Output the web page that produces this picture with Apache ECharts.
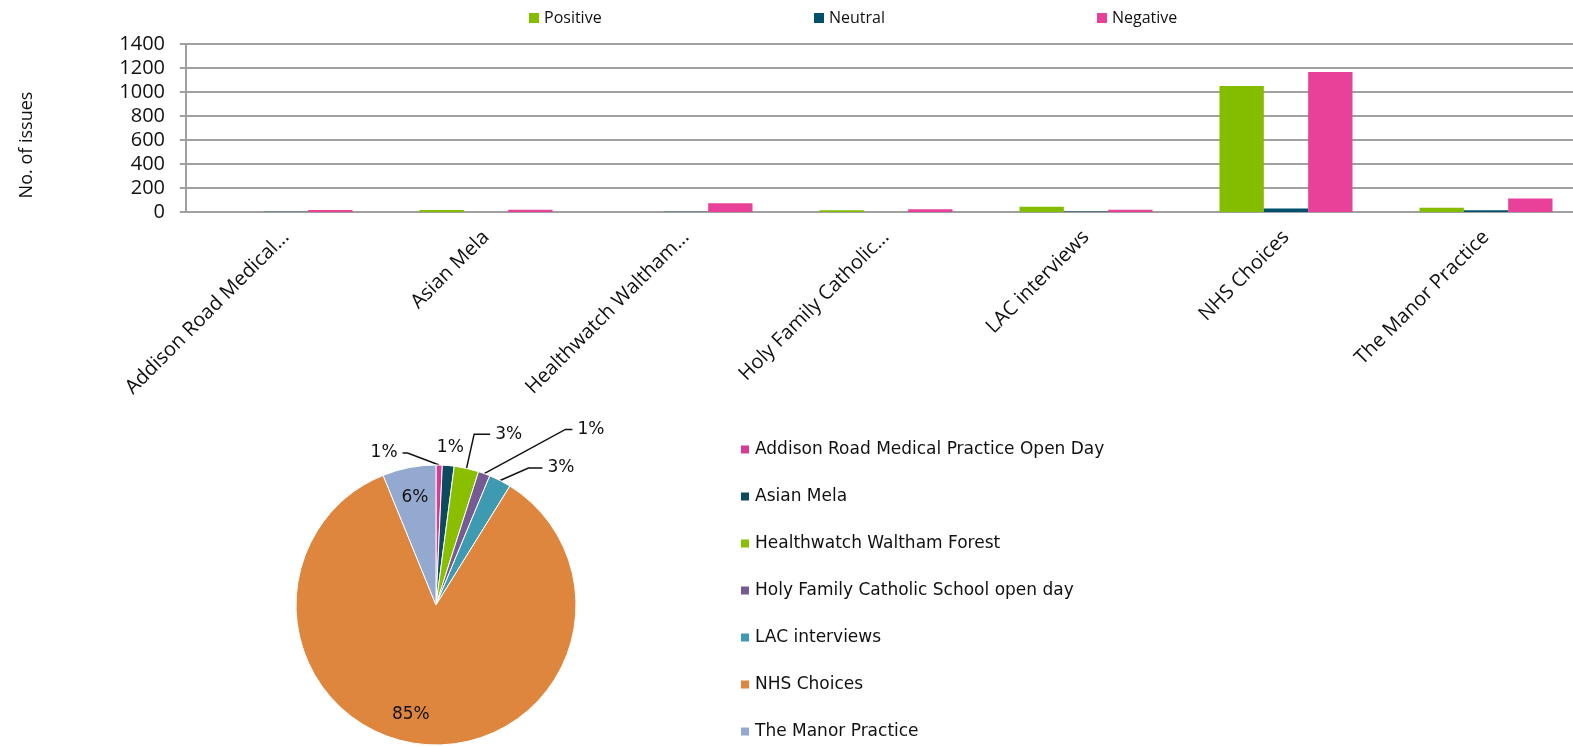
<!DOCTYPE html>
<html>
<head>
<meta charset="utf-8">
<script src="https://cdn.jsdelivr.net/npm/echarts@6/dist/echarts.min.js"></script>
<style>
  html, body { margin: 0; padding: 0; background: #fff; }
  #chart { width: 1573px; height: 747px; }
</style>
</head>
<body>
<div id="chart"></div>
<script>
// categories / sources
const categories = [
  'Addison Road Medical Practice Open Day',
  'Asian Mela',
  'Healthwatch Waltham Forest',
  'Holy Family Catholic School open day',
  'LAC interviews',
  'NHS Choices',
  'The Manor Practice'
]
// labels as shown under the bar chart
const tickLabels = [
  'Addison Road Medical...',
  'Asian Mela',
  'Healthwatch Waltham...',
  'Holy Family Catholic...',
  'LAC interviews',
  'NHS Choices',
  'The Manor Practice'
]
const positive = [0, 17, 0, 14, 44, 1051, 36]
const neutral = [2, 0, 3, 0, 5, 30, 14]
const negative = [17, 19, 72, 22, 19, 1167, 113]
const yMin = 0
const yMax = 1400
const yStep = 200

const sentimentColors = ['#84bc00', '#00506e', '#e8419a']
const sourceColors = ['#d63c96', '#0c4a60', '#8abf00', '#765a92', '#3d9ab0', '#de853e', '#93a9cf']

// pie = total issues per source
const totals = categories.map((c, i) => positive[i] + neutral[i] + negative[i])

const pieCenter = [436, 605]
const pieRadius = 140
// how each pie label is placed: inside, or outside with leader line [length, length2]
const pieLabelStyle = [
  { lens: [12, 30], line: true, flip: true },
  { lens: [18, 0], line: false, shift: -18 },
  { lens: [35, 16], line: true },
  { lens: [47, 72], line: true, tail: 7 },
  { lens: [14, 36], line: true, tail: 14 },
  { inside: true, shift: -16 },
  { inside: true }
]

const chart = echarts.init(document.getElementById('chart'))

const barFont = 'Open Sans'
const pieFont = 'DejaVu Sans'

const legendBase = {
  top: 5,
  itemWidth: 10,
  itemHeight: 10,
  icon: 'rect',
  selectedMode: false,
  textStyle: { fontFamily: barFont, fontSize: 16, color: '#111' }
}

const option = {
  animation: false,
  legend: [
    { ...legendBase, left: 524, data: ['Positive'] },
    { ...legendBase, left: 809, data: ['Neutral'] },
    { ...legendBase, left: 1092, data: ['Negative'] },
    {
      orient: 'vertical',
      left: 734,
      top: 436,
      itemWidth: 10,
      itemHeight: 10,
      itemGap: 30,
      icon: 'rect',
      selectedMode: false,
      data: categories,
      textStyle: { fontFamily: pieFont, fontSize: 17, color: '#111' }
    }
  ],
  // the plot runs a little past the right edge of the page
  grid: { left: 186, top: 44, width: 1400, height: 168, outerBoundsMode: 'none' },
  xAxis: {
    type: 'category',
    data: categories,
    axisLine: { lineStyle: { color: '#a0a0a0', width: 2 } },
    axisTick: { length: 6, lineStyle: { color: '#a0a0a0', width: 2 } },
    axisLabel: {
      rotate: 45,
      margin: 22,
      interval: 0,
      fontFamily: barFont,
      fontSize: 20,
      color: '#111',
      formatter: (v, i) => tickLabels[i]
    }
  },
  yAxis: {
    type: 'value',
    min: yMin,
    max: yMax,
    interval: yStep,
    name: 'No. of issues',
    nameLocation: 'middle',
    nameRotate: 90,
    nameGap: 150,
    nameTextStyle: { fontFamily: barFont, fontSize: 18, color: '#111', padding: [0, 34, 0, 0] },
    axisLine: { show: true, lineStyle: { color: '#a0a0a0', width: 2 } },
    axisTick: { show: true, length: 6, lineStyle: { color: '#a0a0a0', width: 2 } },
    splitLine: { lineStyle: { color: '#a0a0a0', width: 2 } },
    axisLabel: { margin: 21, fontFamily: barFont, fontSize: 20, color: '#111', formatter: v => String(v) }
  },
  series: [
    { name: 'Positive', type: 'bar', data: positive, itemStyle: { color: sentimentColors[0] }, barGap: '0%', barCategoryGap: '33.5%' },
    { name: 'Neutral', type: 'bar', data: neutral, itemStyle: { color: sentimentColors[1] }, barGap: '0%', barCategoryGap: '33.5%' },
    { name: 'Negative', type: 'bar', data: negative, itemStyle: { color: sentimentColors[2] }, barGap: '0%', barCategoryGap: '33.5%' },
    {
      name: 'Sources',
      type: 'pie',
      center: pieCenter,
      radius: pieRadius,
      startAngle: 90,
      percentPrecision: 0,
      avoidLabelOverlap: false,
      itemStyle: { borderColor: '#fff', borderWidth: 1 },
      label: {
        formatter: '{d}%',
        fontFamily: pieFont,
        fontSize: 17,
        color: '#111'
      },
      labelLine: { lineStyle: { color: '#111', width: 1.5 } },
      labelLayout: params => {
        const s = pieLabelStyle[params.dataIndex]
        const r = params.labelRect
        const p = params.labelLinePoints
        if (s.inside) {
          // push inside labels further toward the rim
          const lx = r.x + r.width / 2
          const ly = r.y + r.height / 2
          return {
            x: pieCenter[0] + (lx - pieCenter[0]) * 1.5 + (s.shift || 0),
            y: pieCenter[1] + (ly - pieCenter[1]) * 1.5,
            align: 'center',
            verticalAlign: 'middle'
          }
        }
        if (s.flip && p) {
          // put this label on the left of the slice
          const endX = 2 * pieCenter[0] - p[2][0]
          return {
            x: endX - 5,
            align: 'right',
            labelLinePoints: [p[0], [endX + 5, p[1][1]], [endX, p[1][1]]]
          }
        }
        if (s.tail && p) {
          // slanted leader with a short flat end
          return { labelLinePoints: [p[0], [p[2][0] - s.tail, p[1][1]], p[2]] }
        }
        if (s.shift) return { dx: s.shift }
        return {}
      },
      data: categories.map((name, i) => {
        const s = pieLabelStyle[i]
        return {
          name,
          value: totals[i],
          itemStyle: { color: sourceColors[i] },
          label: { position: s.inside ? 'inside' : 'outside' },
          labelLine: s.inside
            ? { show: false }
            : { show: s.line, length: s.lens[0], length2: s.lens[1] }
        }
      })
    }
  ]
}

chart.setOption(option)
</script>
</body>
</html>
